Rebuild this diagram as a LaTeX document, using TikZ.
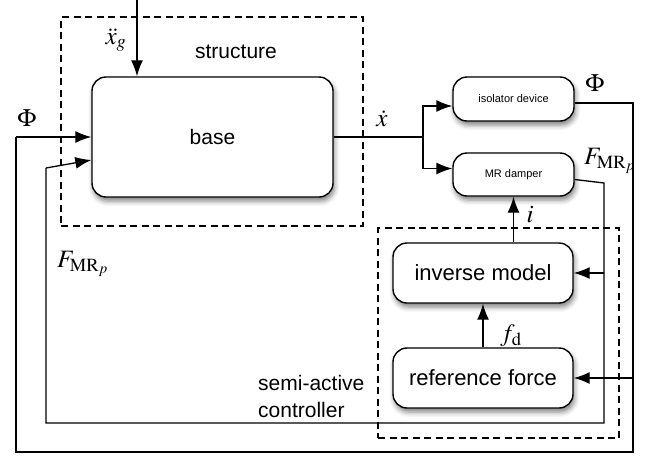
\documentclass[tikz,border=0pt]{standalone}
\usepackage{mathptmx}
\usepackage{fontspec}
\setmainfont{Liberation Sans}
\usetikzlibrary{arrows.meta,shadows.blur}
\begin{document}
\begin{tikzpicture}[x=1pt,y=-1pt,
  blk/.style={draw,line width=1.4pt,rounded corners=14pt,fill=white,
    blur shadow={shadow xshift=1.5pt,shadow yshift=-4pt,shadow blur radius=5pt,shadow opacity=50},
    inner sep=0pt},
  dashbox/.style={draw,line width=1.2pt,dash pattern=on 7pt off 4.5pt,inner sep=0pt},
  wire/.style={line width=1.3pt},
  arr/.style={line width=1.3pt,-{Latex[length=16pt,width=12pt]}},
  txt/.style={font=\fontsize{21}{27}\selectfont},
  small/.style={font=\fontsize{11}{13}\selectfont},
  lab/.style={font=\fontsize{25}{29}\selectfont,inner sep=0pt}]
\useasboundingbox (0,0) rectangle (647,456);
% dashed frames
\node[dashbox,minimum width=302pt,minimum height=209pt] (struct) at (212,121.5) {};
\node[dashbox,minimum width=241pt,minimum height=210pt] (ctrl) at (498.5,333) {};
% blocks
\node[blk,txt,minimum width=241pt,minimum height=120pt] (base) at (212.5,137) {base};
\node[blk,small,minimum width=121pt,minimum height=44pt] (iso) at (513.5,99) {isolator device};
\node[blk,small,minimum width=121pt,minimum height=43pt] (mr) at (513.5,174.5) {MR damper};
\node[blk,minimum width=180pt,minimum height=60pt,font=\fontsize{22}{26}\selectfont] (inv) at (483,273) {inverse model};
\node[blk,minimum width=180pt,minimum height=60pt,font=\fontsize{22}{26}\selectfont] (ref) at (483,378) {reference force};
% texts
\node[txt] (structlab) at (236,52) {structure};
\node[txt,align=left,anchor=west,inner sep=0pt] (ctrllab) at (258,396.5) {semi-active\\controller};
% ground acceleration input
\coordinate (gtop) at (137,0);
\draw[arr] (gtop) -- (gtop |- base.north);
\node[lab] (xgl) at (116,40) {$\ddot{x}_g$};
% velocity
\coordinate (split) at (423,137);
\draw[wire] (base.east) -- (split);
\draw[arr] (split) |- ([yshift=-7pt]iso.west);
\draw[arr] (split) |- ([yshift=6pt]mr.west);
\node[lab] (xdl) at (382,119) {$\dot{x}$};
% Phi loop
\coordinate (p1) at (633,103);
\coordinate (p2) at (633,452);
\coordinate (p3) at (16,452);
\coordinate (p4) at (16,137);
\coordinate (p5) at (633,378);
\draw[wire] ([yshift=-4pt]iso.east) -- (p1) -- (p2) -- (p3) -- (p4);
\draw[arr] (p4) -- (base.west);
\draw[arr] (p5) -- (ref.east);
\node[lab] (phir) at (595,83) {$\Phi$};
\node[lab] (phil) at (27,118) {$\Phi$};
% MR force loop
\coordinate (f1) at (604,183);
\coordinate (f2) at (604,423);
\coordinate (f3) at (46,423);
\coordinate (f4) at (46,168);
\coordinate (f5) at (604,273);
\draw[wire] ([yshift=-5pt]mr.east) -- (f1) -- (f2) -- (f3) -- (f4);
\draw[arr] (f4) -- ([yshift=-23pt]base.west);
\draw[arr] (f5) -- (inv.east);
\node[lab,anchor=west] (fr) at (584,161) {$F_{\mathrm{MR}_p}$};
\node[lab,anchor=west] (fl) at (57,264) {$F_{\mathrm{MR}_p}$};
% controller internals
\draw[arr] (inv.north -| mr.south) -- (mr.south);
\node[lab] (il) at (530,215) {$i$};
\draw[arr] (ref.north) -- (inv.south);
\node[lab] (fdl) at (511,336) {$f_{\mathrm{d}}$};
\end{tikzpicture}
\end{document}
